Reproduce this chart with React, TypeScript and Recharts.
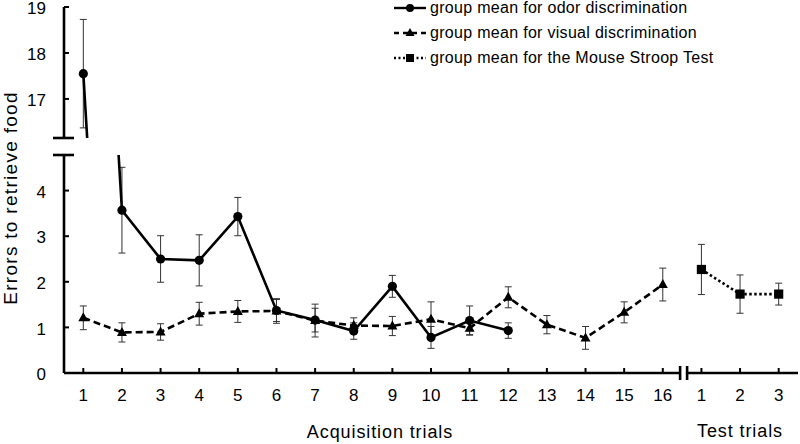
import React from 'react';
import { LineChart, Line, XAxis, YAxis, ErrorBar, Legend } from 'recharts';

// ---------- data ----------
const acquisitionTrials = [1, 2, 3, 4, 5, 6, 7, 8, 9, 10, 11, 12, 13, 14, 15, 16];
const testTrials = [1, 2, 3];

const odorMean = [17.55, 3.57, 2.5, 2.47, 3.43, 1.37, 1.16, 0.92, 1.9, 0.78, 1.15, 0.93];
const odorSem = [1.18, 0.94, 0.51, 0.56, 0.42, 0.24, 0.26, 0.18, 0.24, 0.24, 0.32, 0.17];

const visualMean = [1.21, 0.89, 0.9, 1.3, 1.35, 1.36, 1.15, 1.04, 1.03, 1.18, 0.98, 1.66, 1.06, 0.77, 1.33, 1.94];
const visualSem = [0.26, 0.21, 0.18, 0.25, 0.24, 0.27, 0.36, 0.17, 0.21, 0.38, 0.14, 0.23, 0.2, 0.25, 0.23, 0.36];

const stroopMean = [2.27, 1.73, 1.73];
const stroopSem = [0.55, 0.42, 0.24];

const seriesNames = [
  'group mean for odor discrimination',
  'group mean for visual discrimination',
  'group mean for the Mouse Stroop Test',
];
const xAxisTitles = ['Acquisition trials', 'Test trials'];
const yAxisTitle = 'Errors to retrieve food';

const lowerYTicks = [0, 1, 2, 3, 4];
const upperYTicks = [17, 18, 19];
const lowerYDomain: [number, number] = [0, 4.78];
const upperYDomain: [number, number] = [16.15, 19];

// ---------- derived tables ----------
const nAcq = acquisitionTrials.length;
const breakX = nAcq + 0.5;
const xDomain: [number, number] = [0.5, nAcq + testTrials.length + 0.5];
const xTicks = [...acquisitionTrials, breakX, ...testTrials.map((t) => nAcq + t)];

const odorData = odorMean.map((m, i) => ({ x: acquisitionTrials[i], mean: m, sem: odorSem[i] }));
const visualData = visualMean.map((m, i) => ({ x: acquisitionTrials[i], mean: m, sem: visualSem[i] }));
const stroopData = stroopMean.map((m, i) => ({ x: nAcq + testTrials[i], mean: m, sem: stroopSem[i] }));

const FONT = '"Liberation Sans", Arial, Helvetica, sans-serif';
const AXIS_W = 2.6;

// ---------- custom pieces ----------
const XTick = (props: any) => {
  const { x, y, payload } = props;
  const v = payload.value;
  if (v === breakX) {
    return (
      <g>
        <rect x={x - 1.2} y={y - 3} width={5} height={6} fill="#fff" />
        <line x1={x - 2} y1={y - 7} x2={x - 2} y2={y + 7} stroke="#000" strokeWidth={AXIS_W} />
        <line x1={x + 5} y1={y - 7} x2={x + 5} y2={y + 7} stroke="#000" strokeWidth={AXIS_W} />
      </g>
    );
  }
  const label = v > nAcq ? String(v - nAcq) : String(v);
  return (
    <g>
      <line x1={x} y1={y} x2={x} y2={y - 5} stroke="#000" strokeWidth={2} />
      <text x={x} y={y + 27.5} textAnchor="middle" fontSize={17} fontFamily={FONT} fill="#000">
        {label}
      </text>
    </g>
  );
};

const makeYTick = (capValue: number) => (props: any) => {
  const { x, y, payload } = props;
  if (payload.value === capValue) {
    return <line x1={x - 11} y1={y} x2={x + 10} y2={y} stroke="#000" strokeWidth={AXIS_W} />;
  }
  return (
    <g>
      <line x1={x} y1={y} x2={x + 5} y2={y} stroke="#000" strokeWidth={2} />
      <text x={x - 18} y={y} dy="0.42em" textAnchor="end" fontSize={17} fontFamily={FONT} fill="#000">
        {payload.value}
      </text>
    </g>
  );
};
const UpperYTick = makeYTick(upperYDomain[0]);
const LowerYTick = makeYTick(lowerYDomain[1]);

const XTitles = () => (
  <g>
    <text x={380} y={438} textAnchor="middle" fontSize={18} letterSpacing={0.9} fontFamily={FONT} fill="#000">
      {xAxisTitles[0]}
    </text>
    <text x={740} y={437} textAnchor="middle" fontSize={18} letterSpacing={0.9} fontFamily={FONT} fill="#000">
      {xAxisTitles[1]}
    </text>
  </g>
);

const YTitle = () => (
  <text
    x={16.5}
    y={198}
    transform="rotate(-90 16.5 198)"
    textAnchor="middle"
    fontSize={19}
    letterSpacing={1.3}
    fontFamily={FONT}
    fill="#000"
  >
    {yAxisTitle}
  </text>
);

const CircleDot = (p: any) => <circle key={`c${p.index}`} cx={p.cx} cy={p.cy} r={4.6} fill="#000" />;
const TriangleDot = (p: any) => (
  <polygon
    key={`t${p.index}`}
    points={`${p.cx},${p.cy - 5.5} ${p.cx - 5},${p.cy + 3.5} ${p.cx + 5},${p.cy + 3.5}`}
    fill="#000"
  />
);
const SquareDot = (p: any) => (
  <rect key={`s${p.index}`} x={p.cx - 4.6} y={p.cy - 4.6} width={9.2} height={9.2} fill="#000" />
);

const LegendContent = () => {
  const rows = [
    { dash: undefined, marker: 'circle' },
    { dash: '5 4', marker: 'triangle' },
    { dash: '2 2.5', marker: 'square' },
  ];
  return (
    <svg width={410} height={70} style={{ display: 'block' }}>
      {rows.map((r, i) => {
        const cy = 8 + i * 25;
        const cx = 20;
        return (
          <g key={i}>
            <line x1={4} y1={cy} x2={36} y2={cy} stroke="#000" strokeWidth={2.4} strokeDasharray={r.dash} />
            {r.marker === 'circle' && <circle cx={cx} cy={cy} r={4} fill="#000" />}
            {r.marker === 'triangle' && (
              <polygon points={`${cx},${cy - 5} ${cx - 4.5},${cy + 3} ${cx + 4.5},${cy + 3}`} fill="#000" />
            )}
            {r.marker === 'square' && <rect x={cx - 4} y={cy - 4} width={8} height={8} fill="#000" />}
            <text x={40} y={cy + 5} fontSize={16} letterSpacing={0.3} fontFamily={FONT} fill="#000">
              {seriesNames[i]}
            </text>
          </g>
        );
      })}
    </svg>
  );
};

const errProps = { dataKey: 'sem', direction: 'y' as const, width: 3.5, stroke: '#333', strokeWidth: 1 };

export default function App() {
  return (
    <div style={{ position: 'absolute', left: 0, top: 0, width: 800, height: 444, overflow: 'hidden', background: '#fff' }}>
      <div style={{ position: 'absolute', left: 0, top: 0 }}>
        <LineChart width={800} height={444} margin={{ top: 155, right: 2, bottom: 0, left: 8 }}>
          <XAxis
            type="number"
            dataKey="x"
            domain={xDomain}
            ticks={xTicks}
            interval={0}
            tick={XTick}
            tickLine={false}
            tickSize={0}
            tickMargin={0}
            axisLine={{ stroke: '#000', strokeWidth: AXIS_W }}
            height={71}
            allowDataOverflow
            label={XTitles}
          />
          <YAxis
            type="number"
            domain={lowerYDomain}
            ticks={[...lowerYTicks, lowerYDomain[1]]}
            interval={0}
            tick={LowerYTick}
            tickLine={false}
            tickSize={0}
            tickMargin={0}
            axisLine={{ stroke: '#000', strokeWidth: AXIS_W }}
            width={56}
            allowDataOverflow
            label={YTitle}
          />
          <Legend
            layout="vertical"
            align="center"
            verticalAlign="middle"
            content={LegendContent}
            wrapperStyle={{ left: 390, top: 0, width: 410, height: 70 }}
          />
          <Line
            data={visualData}
            dataKey="mean"
            name={seriesNames[1]}
            stroke="#000"
            strokeWidth={2.6}
            strokeDasharray="7 4"
            dot={TriangleDot}
            activeDot={false}
            isAnimationActive={false}
          >
            <ErrorBar {...errProps} />
          </Line>
          <Line
            data={odorData}
            dataKey="mean"
            name={seriesNames[0]}
            stroke="#000"
            strokeWidth={2.6}
            dot={CircleDot}
            activeDot={false}
            isAnimationActive={false}
          >
            <ErrorBar {...errProps} />
          </Line>
          <Line
            data={stroopData}
            dataKey="mean"
            name={seriesNames[2]}
            stroke="#000"
            strokeWidth={2.6}
            strokeDasharray="2.5 2.5"
            dot={SquareDot}
            activeDot={false}
            isAnimationActive={false}
          >
            <ErrorBar {...errProps} />
          </Line>
        </LineChart>
      </div>
      <div style={{ position: 'absolute', left: 0, top: 0 }}>
        <LineChart width={800} height={140} margin={{ top: 7, right: 2, bottom: 2, left: 8 }}>
          <XAxis type="number" dataKey="x" domain={xDomain} hide allowDataOverflow />
          <YAxis
            type="number"
            domain={upperYDomain}
            ticks={[upperYDomain[0], ...upperYTicks]}
            interval={0}
            tick={UpperYTick}
            tickLine={false}
            tickSize={0}
            tickMargin={0}
            axisLine={{ stroke: '#000', strokeWidth: AXIS_W }}
            width={56}
            allowDataOverflow
          />
          <Line
            data={odorData}
            dataKey="mean"
            name={seriesNames[0]}
            stroke="#000"
            strokeWidth={2.6}
            dot={CircleDot}
            activeDot={false}
            isAnimationActive={false}
          >
            <ErrorBar {...errProps} />
          </Line>
        </LineChart>
      </div>
    </div>
  );
}
